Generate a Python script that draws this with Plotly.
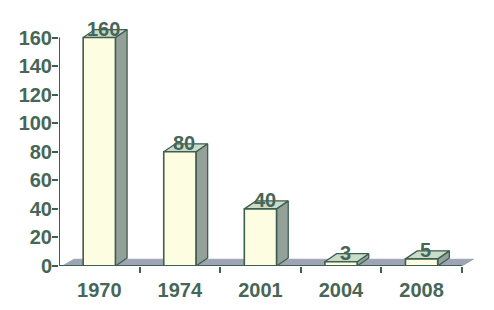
import plotly.graph_objects as go

years = ["1970", "1974", "2001", "2004", "2008"]
values = [160, 80, 40, 3, 5]
y_ticks = [0, 20, 40, 60, 80, 100, 120, 140, 160]

DARK = "#3e5e50"
TEXT = "#466657"
FRONT = "#fdfde2"
SIDE = "#94a198"
TOP = "#c9dcc9"
FLOOR = "#9ea4b3"

BW = 0.4      # bar width (category units)
DX = 0.145    # depth offset x
DY = 5.6      # depth offset y

fig = go.Figure()

def poly(xs, ys, fill, lw=1.3, lc=DARK):
    fig.add_trace(go.Scatter(
        x=xs + [xs[0]], y=ys + [ys[0]], mode="lines", fill="toself",
        fillcolor=fill, line=dict(color=lc, width=lw), hoverinfo="skip",
        showlegend=False))

# floor
poly([-0.46, 4.5, 4.5 + DX, -0.46 + DX], [0, 0, DY * 0.85, DY * 0.85], FLOOR, lw=0.6, lc="#8a90a0")

for i, v in enumerate(values):
    x0, x1 = i - BW / 2, i + BW / 2
    # side face
    poly([x1, x1 + DX, x1 + DX, x1], [0, DY, v + DY, v], SIDE)
    # top face
    poly([x0, x1, x1 + DX, x0 + DX], [v, v, v + DY, v + DY], TOP)
    # front face
    poly([x0, x1, x1, x0], [0, 0, v, v], FRONT, lw=1.6)
    fig.add_annotation(x=i + DX / 2 - 0.02, y=v + DY / 2, text=f"<b>{v}</b>",
                       showarrow=False, yshift=5, yanchor="middle",
                       font=dict(size=20, color=TEXT, family="Liberation Sans, Arial"))

# axis lines
fig.add_trace(go.Scatter(x=[-0.5, 4.5], y=[0, 0], mode="lines",
                         line=dict(color=DARK, width=2), hoverinfo="skip", showlegend=False))
fig.add_trace(go.Scatter(x=[-0.5, -0.5], y=[0, 160], mode="lines",
                         line=dict(color=DARK, width=2), hoverinfo="skip", showlegend=False))

fig.update_layout(
    width=494, height=310,
    margin=dict(l=59, r=12, t=9, b=41),
    paper_bgcolor="white", plot_bgcolor="white",
    font=dict(family="Liberation Sans, Arial", size=20, color=TEXT),
    xaxis=dict(range=[-0.5, 4.75], tickvals=list(range(len(years))), ticktext=[f"<b>{y}</b>" for y in years],
               showgrid=False, zeroline=False, showline=False, ticks="",
               ticklabelstandoff=10,
               minor=dict(tickvals=[0.5, 1.5, 2.5, 3.5, 4.5], ticks="outside", ticklen=6,
                          tickcolor=DARK, tickwidth=2, showgrid=False)),
    yaxis=dict(range=[0, 180], tickvals=y_ticks, ticktext=[f"<b>{t}</b>" for t in y_ticks],
               showgrid=False, zeroline=False, showline=False, ticks="outside",
               ticklen=6, tickwidth=2, tickcolor=DARK, ticklabelstandoff=-4),
)

fig.write_html("out.html")
